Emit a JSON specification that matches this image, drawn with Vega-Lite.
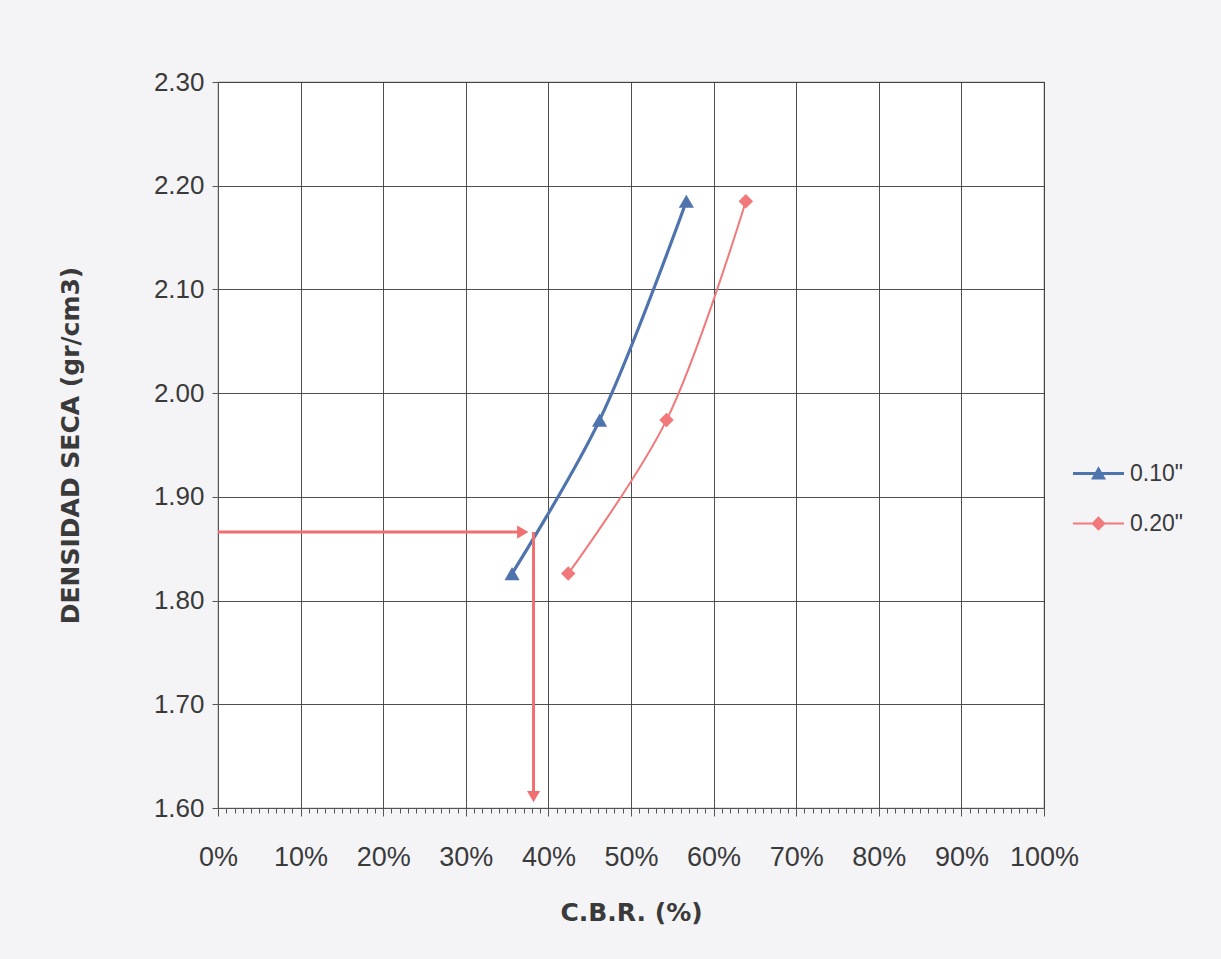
{
  "$schema": "https://vega.github.io/schema/vega-lite/v6.json",
  "autosize": "none",
  "width": 826,
  "height": 726,
  "padding": {"left": 218, "top": 82, "right": 177, "bottom": 151},
  "background": "#f4f4f7",
  "config": {
    "font": "Liberation Sans",
    "view": {"stroke": "#777777", "strokeWidth": 1.2, "fill": "#ffffff"}
  },
  "datasets": {
    "curves": [
      {"serie": "0.10\"", "cbr": 35.6, "dens": 1.826},
      {"serie": "0.10\"", "cbr": 46.2, "dens": 1.974},
      {"serie": "0.10\"", "cbr": 56.7, "dens": 2.185},
      {"serie": "0.20\"", "cbr": 42.4, "dens": 1.826},
      {"serie": "0.20\"", "cbr": 54.3, "dens": 1.974},
      {"serie": "0.20\"", "cbr": 63.9, "dens": 2.185}
    ],
    "arrows": [
      {"cbr": 0, "dens": 1.866, "cbr2": 37.0, "dens2": 1.866},
      {"cbr": 38.2, "dens": 1.866, "cbr2": 38.2, "dens2": 1.615}
    ],
    "heads": [
      {"cbr": 36.9, "dens": 1.866, "dir": "right"},
      {"cbr": 38.2, "dens": 1.611, "dir": "down"}
    ]
  },
  "encoding": {
    "x": {
      "field": "cbr", "type": "quantitative",
      "scale": {"domain": [0, 100], "nice": false, "zero": false},
      "axis": {
        "title": "C.B.R. (%)",
        "titleFont": "DejaVu Sans", "titleFontSize": 25, "titleFontWeight": "bold", "titleColor": "#3a3a3a", "titlePadding": 30,
        "tickCount": 500,
        "values": [0,1,2,3,4,5,6,7,8,9,10,11,12,13,14,15,16,17,18,19,20,21,22,23,24,25,26,27,28,29,30,31,32,33,34,35,36,37,38,39,40,41,42,43,44,45,46,47,48,49,50,51,52,53,54,55,56,57,58,59,60,61,62,63,64,65,66,67,68,69,70,71,72,73,74,75,76,77,78,79,80,81,82,83,84,85,86,87,88,89,90,91,92,93,94,95,96,97,98,99,100],
        "labelExpr": "datum.value % 10 === 0 ? datum.value + '%' : ''",
        "labelOverlap": false, "labelBound": false, "labelFlush": false,
        "labelFontSize": 27, "labelColor": "#3a3a3a", "labelPadding": 28,
        "tickColor": "#555555",
        "tickSize": {"condition": {"test": "datum.value % 10 === 0", "value": 8}, "value": 5},
        "domainColor": "#555555",
        "grid": true, "gridColor": "#3c3c3c", "gridWidth": 1,
        "gridOpacity": {"condition": {"test": "datum.value % 10 === 0", "value": 0.9}, "value": 0}
      }
    },
    "y": {
      "field": "dens", "type": "quantitative",
      "scale": {"domain": [1.6, 2.3], "nice": false, "zero": false},
      "axis": {
        "title": "DENSIDAD SECA (gr/cm3)",
        "titleFont": "DejaVu Sans", "titleFontSize": 25, "titleFontWeight": "bold", "titleColor": "#3a3a3a", "titlePadding": 70,
        "tickCount": 50,
        "values": [1.6, 1.7, 1.8, 1.9, 2.0, 2.1, 2.2, 2.3],
        "format": ".2f",
        "labelFontSize": 26, "labelColor": "#3a3a3a", "labelPadding": 8,
        "tickSize": 6, "tickColor": "#555555", "domainColor": "#555555",
        "grid": true, "gridColor": "#3c3c3c", "gridOpacity": 0.9
      }
    }
  },
  "layer": [
    {
      "data": {"name": "curves"},
      "transform": [{"filter": "datum.serie === '0.10\"'"}],
      "mark": {"type": "line", "interpolate": "catmull-rom", "strokeWidth": 3.2, "color": "#4f74ad"}
    },
    {
      "data": {"name": "curves"},
      "transform": [{"filter": "datum.serie === '0.20\"'"}],
      "mark": {"type": "line", "interpolate": "catmull-rom", "strokeWidth": 2, "color": "#f2797b"}
    },
    {
      "data": {"name": "arrows"},
      "mark": {"type": "rule", "strokeWidth": 3, "color": "#f07072"},
      "encoding": {
        "x2": {"field": "cbr2"},
        "y2": {"field": "dens2"}
      }
    },
    {
      "data": {"name": "heads"},
      "transform": [{"filter": "datum.dir === 'right'"}],
      "mark": {"type": "point", "shape": "triangle-right", "filled": true, "opacity": 1, "size": 170, "color": "#f07072"}
    },
    {
      "data": {"name": "heads"},
      "transform": [{"filter": "datum.dir === 'down'"}],
      "mark": {"type": "point", "shape": "triangle-down", "filled": true, "opacity": 1, "size": 170, "color": "#f07072"}
    },
    {
      "data": {"name": "curves"},
      "transform": [{"filter": "datum.serie === '0.20\"'"}],
      "mark": {"type": "point", "shape": "diamond", "filled": true, "opacity": 1, "size": 210, "color": "#f2797b"}
    },
    {
      "data": {"name": "curves"},
      "transform": [{"filter": "datum.serie === '0.10\"'"}],
      "mark": {"type": "point", "shape": "triangle-up", "filled": true, "opacity": 1, "size": 230, "color": "#4f74ad"}
    },
    {
      "data": {"name": "curves"},
      "transform": [{"filter": "false"}],
      "mark": {"type": "point", "filled": true, "opacity": 1},
      "encoding": {
        "color": {
          "field": "serie", "type": "nominal",
          "scale": {"domain": ["0.10\"", "0.20\""], "range": ["#4f74ad", "#f2797b"]},
          "legend": {
            "title": null, "orient": "none", "legendX": 869, "legendY": 380,
            "labelFontSize": 23, "labelColor": "#3a3a3a", "symbolSize": 400,
            "rowPadding": 26, "labelOffset": 20
          }
        },
        "shape": {
          "field": "serie", "type": "nominal",
          "scale": {
            "domain": ["0.10\"", "0.20\""],
            "range": [
              "M-2.55,-0.15L2.55,-0.15L2.55,0.15L-2.55,0.15ZM-0.75,0.6L0,-0.72L0.75,0.6Z",
              "M-2.55,-0.1L2.55,-0.1L2.55,0.1L-2.55,0.1ZM0,-0.72L0.72,0L0,0.72L-0.72,0Z"
            ]
          },
          "legend": {
            "title": null, "orient": "none", "legendX": 869, "legendY": 380,
            "labelFontSize": 23, "labelColor": "#3a3a3a", "symbolSize": 400,
            "rowPadding": 26, "labelOffset": 20
          }
        }
      }
    }
  ]
}
